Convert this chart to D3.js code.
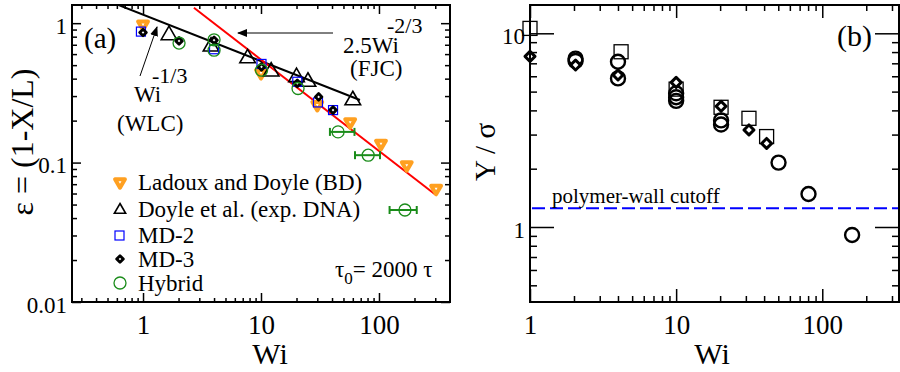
<!DOCTYPE html>
<html>
<head>
<meta charset="utf-8" />
<script src="https://cdn.jsdelivr.net/npm/d3@7"></script>
<style>
  body { margin: 0; background: #fff; }
  svg text { font-family: "Liberation Serif", "Times New Roman", serif; fill: #000; }
</style>
</head>
<body>
<div id="chart"></div>
<script>
// ---- panel (a) data : strain eps = (1 - X/L) vs Wi
var ladouxWi  = [1, 10, 30, 57, 104, 172, 305];
var ladouxEps = [0.98, 0.44, 0.26, 0.195, 0.137, 0.096, 0.065];

var doyleWi  = [1.66, 3.77, 7.7, 12.2, 20, 25, 60];
var doyleEps = [0.82, 0.68, 0.56, 0.45, 0.41, 0.38, 0.28];

var md2Wi  = [0.96, 4, 10.1, 20.3, 30.4, 40.8];
var md2Eps = [0.87, 0.65, 0.51, 0.38, 0.27, 0.238];

var md3Wi  = [1, 2.02, 4, 10.1, 20.3, 30.8, 40.8];
var md3Eps = [0.857, 0.746, 0.755, 0.486, 0.37, 0.296, 0.238];

var hybridWi    = [2.02, 4, 4, 10.1, 20.6, 45, 81, 166];
var hybridEps   = [0.72, 0.76, 0.64, 0.46, 0.34, 0.166, 0.113, 0.0457];
var hybridWiLo  = [null, null, null, null, null, 38.4, 62.6, 123];
var hybridWiHi  = [null, null, null, null, null, 62, 102, 209];

// fit lines (end points)
var wlcLine = [[0.5, 1.45], [69, 0.281]];    // Wi^-1/3
var fjcLine = [[2.7, 1.29], [300, 0.059]];   // 2.5 Wi^-2/3

var aXMajor = [1, 10, 100];
var aXMinor = [0.3, 0.4, 0.5, 0.6, 0.7, 0.8, 0.9, 2, 3, 4, 5, 6, 7, 8, 9, 20, 30, 40, 50, 60, 70, 80, 90, 200, 300];
var aYMajor = [0.01, 0.1, 1];
var aYLabels = ["0.01", "0.1", "1"];
var aYMinor = [0.02, 0.03, 0.04, 0.05, 0.06, 0.07, 0.08, 0.09, 0.2, 0.3, 0.4, 0.5, 0.6, 0.7, 0.8, 0.9];

// ---- panel (b) data : Y / sigma vs Wi
var bSquareWi = [1, 4.2, 10, 20.3, 31.5, 41.6];
var bSquareY  = [10.6, 8.03, 5.15, 4.15, 3.64, 2.93];

var bCircleWi = [2.05, 2.05, 4, 4, 10, 10, 10, 20.3, 20.3, 50.2, 80.5, 160];
var bCircleY  = [7.4, 7.2, 7.13, 5.85, 4.9, 4.68, 4.48, 3.55, 3.38, 2.15, 1.48, 0.91];

var bDiamondWi = [1, 2.05, 4, 10, 20.3, 31.5, 41.6];
var bDiamondY  = [7.6, 6.86, 6.09, 5.58, 4.2, 3.17, 2.7];

var cutoffY = 1.25;

var bXMajor = [1, 10, 100];
var bXMinor = [2, 3, 4, 5, 6, 7, 8, 9, 20, 30, 40, 50, 60, 70, 80, 90, 200, 300];
var bYMajor = [1, 10];
var bYMinor = [0.5, 0.6, 0.7, 0.8, 0.9, 2, 3, 4, 5, 6, 7, 8, 9];

var width = 900, height = 372;
var svg = d3.select("#chart").append("svg")
    .attr("width", width)
    .attr("height", height);

var defs = svg.append("defs");
defs.append("marker")
    .attr("id", "arrow")
    .attr("viewBox", "0 0 10 8")
    .attr("refX", 9).attr("refY", 4)
    .attr("markerWidth", 10).attr("markerHeight", 8)
    .attr("markerUnits", "userSpaceOnUse")
    .attr("orient", "auto")
    .append("path").attr("d", "M0,0 L10,4 L0,8 Z").attr("fill", "#000");

var orange = "#ffa020", green = "#1a8c1a", blue = "#0000ff", red = "#ff0000";

// draws a framed log-log box with inward ticks on all four sides
function drawFrame(g, x, y, o) {
    var x0 = x.range()[0], x1 = x.range()[1];
    var y0 = y.range()[1], y1 = y.range()[0];

    function clean(sel) { sel.select(".domain").remove(); sel.selectAll("line").attr("stroke", "#000").attr("stroke-width", 1.5); }

    g.append("g").attr("transform", "translate(0," + y1 + ")")
        .call(d3.axisBottom(x).tickValues(o.xMajor).tickSize(-o.xMajLen).tickFormat(d3.format("d")))
        .call(clean)
        .call(function (s) {
            s.selectAll("text").attr("font-size", "27px").attr("dy", null).attr("y", 32);
        });
    g.append("g").attr("transform", "translate(0," + y1 + ")")
        .call(d3.axisBottom(x).tickValues(o.xMinor).tickSize(-o.xMinLen).tickFormat(""))
        .call(clean);
    g.append("g").attr("transform", "translate(0," + y0 + ")")
        .call(d3.axisTop(x).tickValues(o.xMajor).tickSize(-o.xMajLen).tickFormat(""))
        .call(clean);
    g.append("g").attr("transform", "translate(0," + y0 + ")")
        .call(d3.axisTop(x).tickValues(o.xMinor).tickSize(-o.xMinLen).tickFormat(""))
        .call(clean);

    g.append("g").attr("transform", "translate(" + x0 + ",0)")
        .call(d3.axisLeft(y).tickValues(o.yMajor).tickSize(-o.yMajLen)
            .tickFormat(function (d, i) { return o.yLabels[i]; }))
        .call(clean)
        .call(function (s) {
            s.selectAll("text").attr("font-size", "23px").attr("x", -5).attr("dy", "0.45em");
        });
    g.append("g").attr("transform", "translate(" + x0 + ",0)")
        .call(d3.axisLeft(y).tickValues(o.yMinor).tickSize(-o.yMinLen).tickFormat(""))
        .call(clean);
    g.append("g").attr("transform", "translate(" + x1 + ",0)")
        .call(d3.axisRight(y).tickValues(o.yMajor).tickSize(-o.yMajLen).tickFormat(""))
        .call(clean);
    g.append("g").attr("transform", "translate(" + x1 + ",0)")
        .call(d3.axisRight(y).tickValues(o.yMinor).tickSize(-o.yMinLen).tickFormat(""))
        .call(clean);

    g.append("rect")
        .attr("x", x0).attr("y", y0)
        .attr("width", x1 - x0).attr("height", y1 - y0)
        .attr("fill", "none").attr("stroke", "#000").attr("stroke-width", 2);
}

function pts(xs, ys) { return xs.map(function (v, i) { return { x: v, y: ys[i], i: i }; }); }

// ================= panel (a)
var xA = d3.scaleLog().domain([0.25, 400]).range([72, 450]);
var yA = d3.scaleLog().domain([0.01, 1.35]).range([302, 5]);
var gA = svg.append("g");

defs.append("clipPath").attr("id", "clipA").append("rect")
    .attr("x", 72).attr("y", 5).attr("width", 378).attr("height", 297);

var lineA = d3.line().x(function (d) { return xA(d[0]); }).y(function (d) { return yA(d[1]); });
gA.append("path").datum(wlcLine).attr("d", lineA).attr("clip-path", "url(#clipA)")
    .attr("stroke", "#000").attr("stroke-width", 2).attr("fill", "none");
gA.append("path").datum(fjcLine).attr("d", lineA).attr("clip-path", "url(#clipA)")
    .attr("stroke", red).attr("stroke-width", 2).attr("fill", "none");

// Ladoux and Doyle (BD): thick orange down triangles
var triDown = d3.symbol().type(d3.symbolTriangle).size(42);
gA.selectAll(".ladoux").data(pts(ladouxWi, ladouxEps)).enter().append("path")
    .attr("class", "ladoux")
    .attr("d", triDown)
    .attr("transform", function (d) { return "translate(" + xA(d.x) + "," + yA(d.y) + ") rotate(180)"; })
    .attr("fill", "#fff").attr("stroke", orange).attr("stroke-width", 4).attr("stroke-linejoin", "round");

// Doyle et al. : open black up triangles
var triUp = d3.symbol().type(d3.symbolTriangle).size(105);
gA.selectAll(".doyle").data(pts(doyleWi, doyleEps)).enter().append("path")
    .attr("d", triUp)
    .attr("transform", function (d) { return "translate(" + xA(d.x) + "," + yA(d.y) + ")"; })
    .attr("fill", "none").attr("stroke", "#000").attr("stroke-width", 1.6);

// MD-2 : blue open squares
gA.selectAll(".md2").data(pts(md2Wi, md2Eps)).enter().append("rect")
    .attr("x", function (d) { return xA(d.x) - 4.5; })
    .attr("y", function (d) { return yA(d.y) - 4.5; })
    .attr("width", 9).attr("height", 9)
    .attr("fill", "none").attr("stroke", blue).attr("stroke-width", 1.2);

// MD-3 : small thick black diamonds (rotated squares)
var diaA = d3.symbol().type(d3.symbolSquare).size(22);
gA.selectAll(".md3").data(pts(md3Wi, md3Eps)).enter().append("path")
    .attr("d", diaA)
    .attr("transform", function (d) { return "translate(" + xA(d.x) + "," + yA(d.y) + ") rotate(45)"; })
    .attr("fill", "#fff").attr("stroke", "#000").attr("stroke-width", 2.8).attr("stroke-linejoin", "round");

// Hybrid : green open circles with horizontal error bars
var hyb = pts(hybridWi, hybridEps);
var err = gA.selectAll(".err").data(hyb.filter(function (d) { return hybridWiLo[d.i] !== null; }))
    .enter().append("g").attr("stroke", green).attr("stroke-width", 2);
err.append("line")
    .attr("x1", function (d) { return xA(hybridWiLo[d.i]); })
    .attr("x2", function (d) { return xA(hybridWiHi[d.i]); })
    .attr("y1", function (d) { return yA(d.y); }).attr("y2", function (d) { return yA(d.y); });
err.append("line")
    .attr("x1", function (d) { return xA(hybridWiLo[d.i]); }).attr("x2", function (d) { return xA(hybridWiLo[d.i]); })
    .attr("y1", function (d) { return yA(d.y) - 4; }).attr("y2", function (d) { return yA(d.y) + 4; });
err.append("line")
    .attr("x1", function (d) { return xA(hybridWiHi[d.i]); }).attr("x2", function (d) { return xA(hybridWiHi[d.i]); })
    .attr("y1", function (d) { return yA(d.y) - 4; }).attr("y2", function (d) { return yA(d.y) + 4; });
gA.selectAll(".hyb").data(hyb).enter().append("circle")
    .attr("cx", function (d) { return xA(d.x); })
    .attr("cy", function (d) { return yA(d.y); })
    .attr("r", 6)
    .attr("fill", "none").attr("stroke", green).attr("stroke-width", 1.3);

drawFrame(gA, xA, yA, {
    xMajor: aXMajor, xMinor: aXMinor, xMajLen: 9, xMinLen: 4,
    yMajor: aYMajor, yMinor: aYMinor, yLabels: aYLabels, yMajLen: 9, yMinLen: 5
});

// annotations (a)
gA.append("text").attr("x", 84).attr("y", 48).attr("font-size", "29px").text("(a)");
gA.append("line").attr("x1", 333).attr("y1", 33).attr("x2", 238).attr("y2", 33)
    .attr("stroke", "#000").attr("stroke-width", 1).attr("marker-end", "url(#arrow)");
gA.append("text").attr("x", 343).attr("y", 53).attr("font-size", "23px").text("2.5Wi");
gA.append("text").attr("x", 387).attr("y", 33).attr("font-size", "22px").text("-2/3");
gA.append("text").attr("x", 350).attr("y", 76).attr("font-size", "23px").text("(FJC)");

gA.append("line").attr("x1", 140).attr("y1", 76).attr("x2", 157).attr("y2", 27)
    .attr("stroke", "#000").attr("stroke-width", 1).attr("marker-end", "url(#arrow)");
gA.append("text").attr("x", 134).attr("y", 102).attr("font-size", "23px").text("Wi");
gA.append("text").attr("x", 152).attr("y", 83).attr("font-size", "22px").text("-1/3");
gA.append("text").attr("x", 117).attr("y", 131).attr("font-size", "23px").text("(WLC)");

// legend (a)
var legA = [
    { label: "Ladoux and Doyle (BD)", y: 182 },
    { label: "Doyle et al. (exp. DNA)", y: 209 },
    { label: "MD-2", y: 235 },
    { label: "MD-3", y: 259 },
    { label: "Hybrid", y: 283 }
];
legA.forEach(function (d) {
    gA.append("text").attr("x", 138).attr("y", d.y + 8).attr("font-size", "23px").text(d.label);
});
gA.append("path").attr("d", triDown).attr("transform", "translate(120,182) rotate(180)")
    .attr("fill", "#fff").attr("stroke", orange).attr("stroke-width", 4).attr("stroke-linejoin", "round");
gA.append("path").attr("d", d3.symbol().type(d3.symbolTriangle).size(55)).attr("transform", "translate(120,210)")
    .attr("fill", "none").attr("stroke", "#000").attr("stroke-width", 1.6);
gA.append("rect").attr("x", 115).attr("y", 231).attr("width", 9).attr("height", 9)
    .attr("fill", "none").attr("stroke", blue).attr("stroke-width", 1.2);
gA.append("path").attr("d", diaA).attr("transform", "translate(120,259) rotate(45)")
    .attr("fill", "#fff").attr("stroke", "#000").attr("stroke-width", 2.8).attr("stroke-linejoin", "round");
gA.append("circle").attr("cx", 120).attr("cy", 283).attr("r", 6)
    .attr("fill", "none").attr("stroke", green).attr("stroke-width", 1.3);

var tau = gA.append("text").attr("x", 335).attr("y", 277).attr("font-size", "23px");
tau.append("tspan").text("\u03c4");
tau.append("tspan").attr("font-size", "17px").attr("dy", 7).text("0");
tau.append("tspan").attr("dy", -7).text("= 2000 \u03c4");

// axis titles (a)
gA.append("text").attr("x", 270).attr("y", 364).attr("font-size", "30px")
    .attr("text-anchor", "middle").text("Wi");
gA.append("text").attr("transform", "translate(33,142) rotate(-90)")
    .attr("font-size", "32px").attr("text-anchor", "middle").text("\u03b5 = (1-X/L)");

// ================= panel (b)
var xB = d3.scaleLog().domain([1, 335]).range([530, 899]);
var yB = d3.scaleLog().domain([0.41, 14]).range([302, 5]);
var gB = svg.append("g");

gB.append("line")
    .attr("x1", xB.range()[0] + 2).attr("x2", xB.range()[1])
    .attr("y1", yB(cutoffY)).attr("y2", yB(cutoffY))
    .attr("stroke", blue).attr("stroke-width", 2).attr("stroke-dasharray", "13,5");
gB.append("text").attr("x", 552).attr("y", 203).attr("font-size", "21px").text("polymer-wall cutoff");

gB.selectAll(".sq").data(pts(bSquareWi, bSquareY)).enter().append("rect")
    .attr("x", function (d) { return xB(d.x) - 7; })
    .attr("y", function (d) { return yB(d.y) - 7; })
    .attr("width", 14).attr("height", 14)
    .attr("fill", "none").attr("stroke", "#000").attr("stroke-width", 1.3);

gB.selectAll(".ci").data(pts(bCircleWi, bCircleY)).enter().append("circle")
    .attr("cx", function (d) { return xB(d.x); })
    .attr("cy", function (d) { return yB(d.y); })
    .attr("r", 7)
    .attr("fill", "none").attr("stroke", "#000").attr("stroke-width", 2.4);

var diaB = d3.symbol().type(d3.symbolSquare).size(50);
gB.selectAll(".di").data(pts(bDiamondWi, bDiamondY)).enter().append("path")
    .attr("d", diaB)
    .attr("transform", function (d) { return "translate(" + xB(d.x) + "," + yB(d.y) + ") rotate(45)"; })
    .attr("fill", "#fff").attr("stroke", "#000").attr("stroke-width", 3).attr("stroke-linejoin", "round");

drawFrame(gB, xB, yB, {
    xMajor: bXMajor, xMinor: bXMinor, xMajLen: 13, xMinLen: 6,
    yMajor: bYMajor, yMinor: bYMinor, yLabels: ["1", "10"], yMajLen: 24, yMinLen: 7
});

gB.append("text").attr("x", 837).attr("y", 46).attr("font-size", "30px").text("(b)");
gB.append("text").attr("x", 712).attr("y", 364).attr("font-size", "30px")
    .attr("text-anchor", "middle").text("Wi");
gB.append("text").attr("transform", "translate(495,152) rotate(-90)")
    .attr("font-size", "29px").attr("text-anchor", "middle").text("Y / \u03c3");
</script>
</body>
</html>
